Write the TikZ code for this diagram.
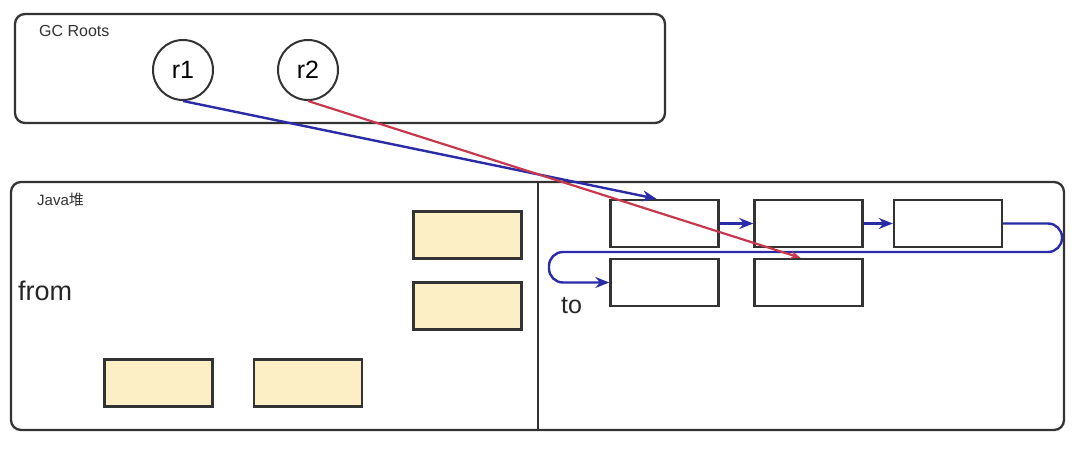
\documentclass[tikz,border=0pt]{standalone}
\usepackage{fontspec}
\setmainfont{Liberation Sans}
\newfontfamily\cjk{Noto Sans CJK SC}
\usetikzlibrary{arrows.meta}
\definecolor{edgec}{HTML}{333333}
\definecolor{bl}{HTML}{2B2BA8}
\definecolor{rd}{HTML}{C8384E}
\definecolor{ylw}{HTML}{FCEFC6}
\tikzset{
  frame/.style={draw=edgec, line width=2.3pt, rounded corners=10pt, inner sep=0pt},
  obj/.style={draw=edgec, line width=2.4pt, inner sep=0pt, minimum width=108pt, minimum height=47pt},
  live/.style={obj, fill=ylw},
  root/.style={circle, draw=edgec, line width=2pt, minimum size=60pt, inner sep=0pt, font=\fontsize{25}{25}\selectfont},
  lbl/.style={inner sep=0pt, anchor=west},
  ref/.style={draw=bl, line width=2.4pt, -{Stealth[length=14pt,width=11pt]}},
  rref/.style={draw=rd, line width=2.2pt, -{Stealth[length=10pt,width=8pt]}},
}
\begin{document}
\begin{tikzpicture}[x=1pt,y=-1pt]
\useasboundingbox[fill=white] (0,0) rectangle (1080,468);
% GC roots
\node[frame, minimum width=650pt, minimum height=109pt] (gc) at (340,68.5) {};
\node[lbl, font=\fontsize{16}{16}\selectfont, text=edgec] (gct) at (39,31) {GC Roots};
\node[root] (r1) at (183,70) {r1};
\node[root] (r2) at (308,70) {r2};
% heap
\node[frame, minimum width=1053pt, minimum height=248pt] (heap) at (537.5,306) {};
\coordinate (dt) at (538,182);
\coordinate (db) at (538,430);
\draw[edgec, line width=2.3pt] (dt) -- (db);
\node[lbl, font=\fontsize{15}{15}\selectfont, text=edgec] (jt) at (37,200) {Java{\cjk 堆}};
\node[lbl, font=\fontsize{27}{27}\selectfont, text=black!85] (from) at (18,291) {from};
\node[lbl, font=\fontsize{25}{25}\selectfont, text=black!85] (to) at (561,306) {to};
% from space objects
\node[live] (y1) at (467.5,235) {};
\node[live] (y2) at (467.5,306) {};
\node[live] (y3) at (158.5,383) {};
\node[live] (y4) at (308,383) {};
% to space objects
\node[obj] (b1) at (664.5,223.5) {};
\node[obj] (b2) at (808.5,223.5) {};
\node[obj] (b3) at (948,223.5) {};
\node[obj] (b4) at (664.5,282.5) {};
\node[obj] (b5) at (808.5,282.5) {};
% references
\draw[ref] (b1.east) -- (b2.west);
\draw[ref] (b2.east) -- (b3.west);
\coordinate (l1) at (1062,223.5);
\coordinate (l2) at (1062,252);
\coordinate (l3) at (549,252);
\coordinate (l4) at (549,282.5);
\draw[ref, rounded corners=14pt] (b3.east) -- (l1) -- (l2) -- (l3) -- (l4) -- (b4.west);
\draw[ref] (r1.south) -- ([xshift=-8pt]b1.north);
\draw[rref] (r2.south) -- ([xshift=-8pt]b5.north);
\end{tikzpicture}
\end{document}
